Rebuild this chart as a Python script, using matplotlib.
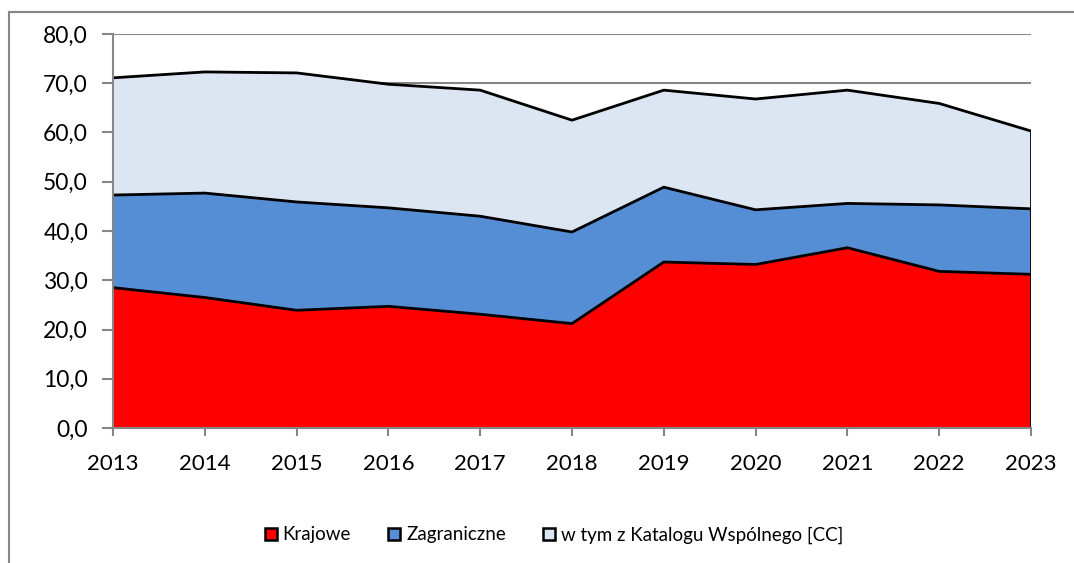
import matplotlib.pyplot as plt
import numpy as np
from matplotlib.lines import Line2D
from matplotlib.patches import Patch

years = [2013, 2014, 2015, 2016, 2017, 2018, 2019, 2020, 2021, 2022, 2023]
# values (stacked series, each one is its own layer)
krajowe = [28.5, 26.5, 23.9, 24.7, 23.1, 21.2, 33.7, 33.2, 36.6, 31.8, 31.2]
zagraniczne = [18.8, 21.2, 22.0, 20.0, 19.9, 18.6, 15.2, 11.1, 9.0, 13.5, 13.3]
katalog_cc = [23.8, 24.6, 26.2, 25.1, 25.6, 22.7, 19.7, 22.5, 23.0, 20.6, 15.8]

labels = ['Krajowe', 'Zagraniczne', 'w tym z Katalogu Wspólnego [CC]']
colors = ['#FF0000', '#558ED5', '#DCE6F2']
grey = '#868686'

plt.rcParams['font.family'] = ['Lato', 'DejaVu Sans']

fig = plt.figure(figsize=(10.74, 5.63), dpi=100)
ax = fig.add_axes([113/1074, 1-428/563, (1031-113)/1074, (428-34)/563])

ax.stackplot(years, krajowe, zagraniczne, katalog_cc, colors=colors, linewidth=0, zorder=2)

# black outline along the top of each layer + right edge
c1 = np.array(krajowe)
c2 = c1 + np.array(zagraniczne)
c3 = c2 + np.array(katalog_cc)
for c in [c1, c2, c3]:
    ax.plot(years, c, color='black', lw=2, zorder=3, solid_capstyle='butt')
ax.plot([years[-1], years[-1]], [0, c3[-1]], color='black', lw=2, zorder=3)

ax.set_xlim(2013, 2023)
ax.set_ylim(0, 80)
ax.set_xticks(years)
ax.set_yticks(np.arange(0, 81, 10))
ax.set_yticklabels(['%d,0' % v for v in range(0, 81, 10)])
ax.yaxis.grid(True, color=grey, lw=1.5, zorder=1)
ax.set_axisbelow(True)

for s in ['top', 'right']:
    ax.spines[s].set_visible(False)
for s in ['left', 'bottom']:
    ax.spines[s].set_color(grey)
    ax.spines[s].set_linewidth(1.5)
    ax.spines[s].set_zorder(4)
ax.tick_params(axis='y', length=8, width=1.5, color=grey, labelsize=16.5, pad=10)
ax.tick_params(axis='x', length=6, width=1.5, color=grey, labelsize=16, pad=13)

handles = [Patch(facecolor=c, edgecolor='black', linewidth=1.8) for c in colors]
fig.legend(handles, labels, loc='center', bbox_to_anchor=(554/1074, 1-535/563), ncol=3,
           frameon=False, fontsize=13.5, handlelength=0.65, handleheight=0.65,
           handletextpad=0.3, columnspacing=2.0)

# outer chart border (top and left edges visible)
fig.add_artist(Line2D([9/1074, 1], [1-11.5/563, 1-11.5/563], color=grey, lw=1.5))
fig.add_artist(Line2D([9/1074, 9/1074], [0, 1-11.5/563], color=grey, lw=1.5))

fig.savefig('out.png', dpi=100)
